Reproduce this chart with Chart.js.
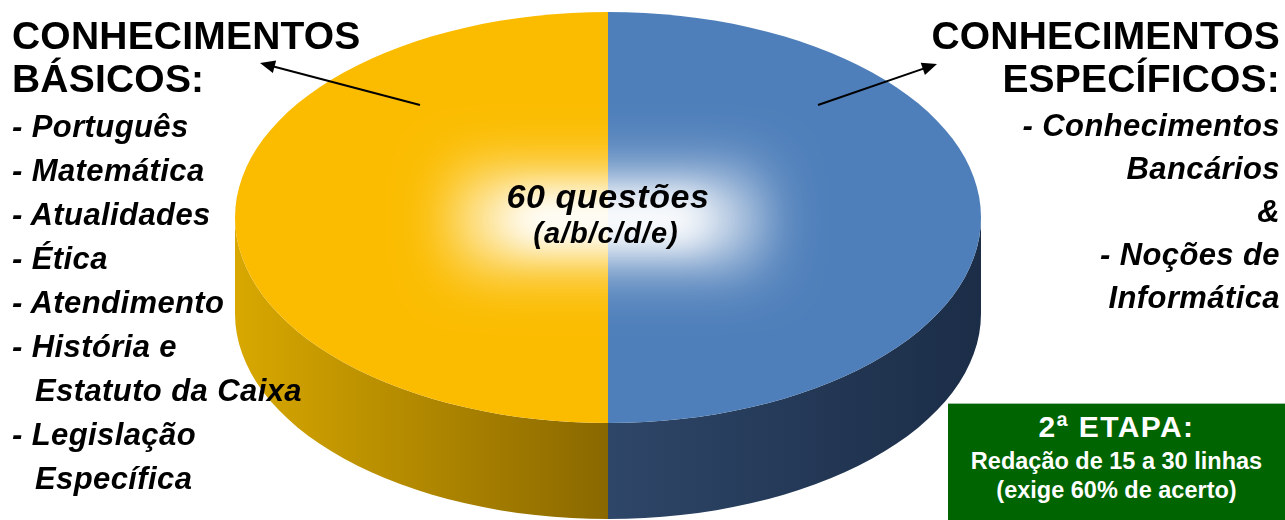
<!DOCTYPE html>
<html>
<head>
<meta charset="utf-8">
<script src="https://cdn.jsdelivr.net/npm/chart.js@4"></script>
<style>
  body { margin: 0; background: #fff; overflow: hidden; }
  #wrap { position: relative; width: 1285px; height: 520px; font-family: "Liberation Sans", Arial, sans-serif; }
  #pie { position: absolute; left: 0; top: 0; }
  .txt { position: absolute; color: #000; font-weight: bold; white-space: nowrap; }
  .title { font-size: 39px; line-height: 43px; letter-spacing: 0.2px; }
  .list { font-size: 31px; font-style: italic; letter-spacing: 0.4px; }
  .left { left: 12px; text-align: left; }
  .right { right: 5px; text-align: right; }
  .indent { padding-left: 23px; }
  #center1 { left: 408px; width: 400px; text-align: center; top: 179px; font-size: 34px; line-height: 34px; font-style: italic; letter-spacing: 0.6px; }
  #center2 { left: 406px; width: 400px; text-align: center; top: 219px; font-size: 29px; line-height: 29px; font-style: italic; letter-spacing: 0.9px; }
  #etapa { position: absolute; left: 948px; top: 403px; width: 337px; height: 117px; background: #006400; border-top: 1px solid #9fc09f; box-sizing: border-box; }
  #etapa div { position: absolute; left: 0; width: 100%; text-align: center; color: #fff; font-weight: bold; white-space: nowrap; }
</style>
</head>
<body>
<div id="wrap">
  <canvas id="pie" width="1285" height="520"></canvas>

  <div class="txt title left" style="top:14px">CONHECIMENTOS<br>BÁSICOS:</div>
  <div class="txt list left" style="top:105px; line-height:44px">
    - Português<br>- Matemática<br>- Atualidades<br>- Ética<br>- Atendimento<br>- História e<br><span class="indent">Estatuto da Caixa</span><br>- Legislação<br><span class="indent">Específica</span>
  </div>

  <div class="txt title right" style="top:14px">CONHECIMENTOS<br>ESPECÍFICOS:</div>
  <div class="txt list right" style="top:104px; line-height:43px">
    - Conhecimentos<br>Bancários<br>&amp;<br>- Noções de<br>Informática
  </div>

  <div class="txt" id="center1">60 questões</div>
  <div class="txt" id="center2">(a/b/c/d/e)</div>

  <div id="etapa">
    <div style="top:8px; font-size:30px; line-height:30px; letter-spacing:1.4px">2ª ETAPA:</div>
    <div style="top:46px; font-size:23.5px; line-height:23.5px">Redação de 15 a 30 linhas</div>
    <div style="top:75px; font-size:23.5px; line-height:23.5px">(exige 60% de acerto)</div>
  </div>
</div>

<script>
// data: two halves of the 60 objective questions
const categories = ['Conhecimentos Específicos', 'Conhecimentos Básicos'];
const questionCounts = [30, 30];
const sliceColors = ['#4F7FBA', '#FBBC00'];

// look of the fake 3D pie
const STRETCH = 373 / 205.5;  // horizontal stretch turning the circle into an ellipse
const DEPTH = 96;             // height of the side wall

// draws the side wall, squashes the pie into an ellipse, adds the glow and arrows
const pie3d = {
  id: 'pie3d',
  beforeDatasetsDraw(chart) {
    const ctx = chart.ctx;
    const arcs = chart.getDatasetMeta(0).data;
    const first = arcs[0];
    const cx = first.x, cy = first.y;
    const rx = first.outerRadius * STRETCH, ry = first.outerRadius;

    const grad = ctx.createLinearGradient(cx - rx, 0, cx + rx, 0);
    grad.addColorStop(0, '#D8A800');
    grad.addColorStop(0.5, '#8A6800');
    grad.addColorStop(0.5, '#2E4668');
    grad.addColorStop(1, '#1B2D47');

    arcs.forEach(arc => {
      const a0 = Math.max(arc.startAngle, 0);
      const a1 = Math.min(arc.endAngle, Math.PI);
      if (a1 <= a0) return;
      ctx.beginPath();
      ctx.ellipse(cx, cy, rx, ry, 0, a0, a1);
      ctx.ellipse(cx, cy + DEPTH, rx, ry, 0, a1, a0, true);
      ctx.closePath();
      ctx.fillStyle = grad;
      ctx.fill();
    });

    ctx.save();
    ctx.translate(cx, cy);
    ctx.scale(STRETCH, 1);
    ctx.translate(-cx, -cy);
  },
  afterDatasetsDraw(chart) {
    const ctx = chart.ctx;
    ctx.restore();

    const arc = chart.getDatasetMeta(0).data[0];
    const cx = arc.x, cy = arc.y;

    // soft white glow behind the centre text (blurred shadows of off-screen boxes)
    glow(ctx, cx - 150, cy - 42, 300, 88, 60, 0.8);
    glow(ctx, cx - 95, cy - 22, 190, 48, 35, 1);

    drawArrow(ctx, 420, 105, 260, 63);
    drawArrow(ctx, 818, 105, 937, 64);
  }
};

function glow(ctx, x, y, w, h, blur, alpha) {
  ctx.save();
  ctx.shadowColor = 'rgba(255,255,255,' + alpha + ')';
  ctx.shadowBlur = blur;
  ctx.shadowOffsetX = 5000;
  ctx.fillStyle = '#fff';
  ctx.fillRect(x - 5000, y, w, h);
  ctx.restore();
}

function drawArrow(ctx, x1, y1, x2, y2) {
  const ang = Math.atan2(y2 - y1, x2 - x1);
  const len = 15, half = 6.5;
  ctx.save();
  ctx.strokeStyle = '#000';
  ctx.fillStyle = '#000';
  ctx.lineWidth = 2;
  ctx.beginPath();
  ctx.moveTo(x1, y1);
  ctx.lineTo(x2 - Math.cos(ang) * len * 0.8, y2 - Math.sin(ang) * len * 0.8);
  ctx.stroke();
  ctx.beginPath();
  ctx.moveTo(x2, y2);
  ctx.lineTo(x2 - Math.cos(ang) * len - Math.sin(ang) * half, y2 - Math.sin(ang) * len + Math.cos(ang) * half);
  ctx.lineTo(x2 - Math.cos(ang) * len + Math.sin(ang) * half, y2 - Math.sin(ang) * len - Math.cos(ang) * half);
  ctx.closePath();
  ctx.fill();
  ctx.restore();
}

new Chart(document.getElementById('pie').getContext('2d'), {
  type: 'pie',
  data: {
    labels: categories,
    datasets: [{
      data: questionCounts,
      backgroundColor: sliceColors,
      borderWidth: 0,
      clip: false
    }]
  },
  options: {
    responsive: false,
    animation: false,
    layout: { padding: { top: 12, bottom: 97, left: 0, right: 69 } },
    plugins: {
      legend: { display: false },
      tooltip: { enabled: false }
    }
  },
  plugins: [pie3d]
});
</script>
</body>
</html>
